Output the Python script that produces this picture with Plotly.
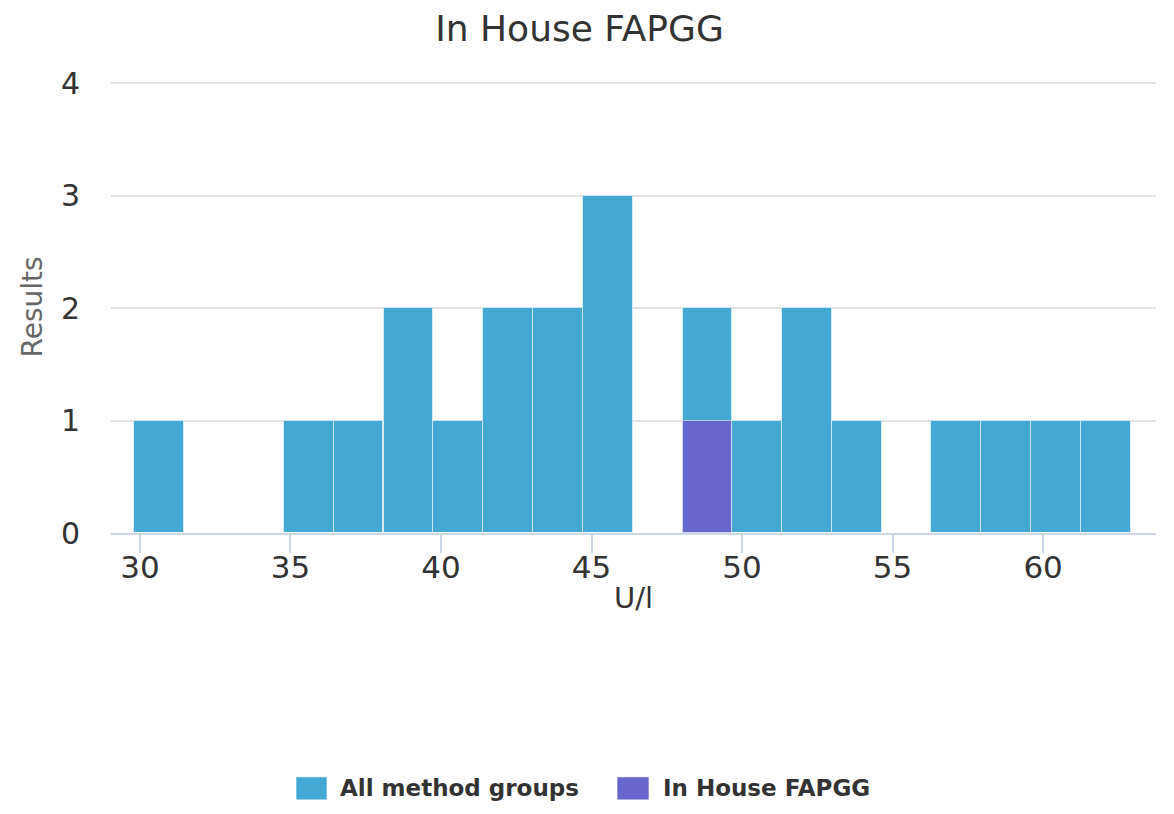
import plotly.graph_objects as go

# ---- data ----
bin_centers = [30.64, 32.30, 33.95, 35.61, 37.26, 38.92, 40.57, 42.23, 43.88, 45.54,
               47.19, 48.85, 50.50, 52.16, 53.81, 55.47, 57.12, 58.78, 60.43, 62.09]
all_method_counts = [1, 0, 0, 1, 1, 2, 1, 2, 2, 3, 0, 2, 1, 2, 1, 0, 1, 1, 1, 1]
in_house_counts = [0, 0, 0, 0, 0, 0, 0, 0, 0, 0, 0, 1, 0, 0, 0, 0, 0, 0, 0, 0]
bin_width = 1.655
series_names = ["All method groups", "In House FAPGG"]
series_colors = ["#44a8d4", "#6766cc"]
title_text = "In House FAPGG"
x_title = "U/l"
y_title = "Results"
x_ticks = [30, 35, 40, 45, 50, 55, 60]
y_ticks = [0, 1, 2, 3, 4]

FONT = "DejaVu Sans"

fig = go.Figure()
fig.add_trace(go.Bar(
    x=bin_centers, y=all_method_counts, width=bin_width, name=series_names[0],
    marker=dict(color=series_colors[0], line=dict(color="rgba(255,255,255,0.55)", width=1)),
    showlegend=False,
))
fig.add_trace(go.Bar(
    x=bin_centers, y=in_house_counts, width=bin_width, name=series_names[1],
    marker=dict(color=series_colors[1], line=dict(color="rgba(255,255,255,0.55)", width=1)),
    showlegend=False,
))

# page body has an 8px margin; work in reference-pixel coordinates minus that offset
OFF = 8
W, H = 1174 - 2 * OFF, 814 - 2 * OFF
Y_MAX = 4.02
L = 111 - OFF
R = 1156 - OFF
B = 533 - OFF
T = B - Y_MAX * 112.5


def px(xp):
    return (xp - OFF - L) / (R - L)


def py(yp):
    return (B - (yp - OFF)) / (B - T)


shapes = []
annotations = []
legend_items = [
    (296, 327, 338, series_names[0], series_colors[0]),
    (617, 649, 661, series_names[1], series_colors[1]),
]
for x0, x1, xt, name, col in legend_items:
    shapes.append(dict(type="rect", xref="paper", yref="paper",
                       x0=px(x0), x1=px(x1), y0=py(800), y1=py(777),
                       fillcolor=col, line=dict(color="rgba(255,255,255,0.6)", width=1)))
    annotations.append(dict(xref="paper", yref="paper", x=px(xt), y=py(788.5),
                            xanchor="left", yanchor="middle", showarrow=False,
                            text="<b>" + name + "</b>",
                            font=dict(family=FONT, size=23, color="#333333")))

fig.update_layout(
    template="none",
    width=W, height=H,
    barmode="overlay",
    bargap=0,
    paper_bgcolor="white", plot_bgcolor="white",
    margin=dict(l=L, r=W - R, t=T, b=H - B, autoexpand=False),
    font=dict(family=FONT, color="#333333"),
    title=dict(text=title_text, x=(579.5 - OFF) / W, xanchor="center", xref="container",
               y=1 - (28 - OFF) / H, yanchor="middle", yref="container",
               font=dict(family=FONT, size=36, color="#333333")),
    xaxis=dict(range=[29.04, 63.75], tickvals=x_ticks, ticktext=[str(v) for v in x_ticks],
               showgrid=False, zeroline=False, showline=True, linecolor="#ccd6eb", linewidth=1.5,
               ticks="outside", ticklen=18, tickwidth=1.5, tickcolor="#ccd6eb",
               ticklabelstandoff=-12,
               tickfont=dict(family=FONT, size=31, color="#333333"),
               title=dict(text=x_title, standoff=4, font=dict(family=FONT, size=29, color="#333333")),
               automargin=False, fixedrange=True),
    yaxis=dict(range=[0, Y_MAX], tickvals=y_ticks, ticktext=[str(v) for v in y_ticks],
               showgrid=True, gridcolor="#e3e3e3", gridwidth=1.5, zeroline=False, showline=False,
               ticks="", ticklabelstandoff=30,
               tickfont=dict(family=FONT, size=30, color="#333333"),
               title=dict(text=y_title, standoff=10, font=dict(family=FONT, size=28, color="#666666")),
               automargin=False, fixedrange=True),
    shapes=shapes,
    annotations=annotations,
)

fig.write_html("out.html")
